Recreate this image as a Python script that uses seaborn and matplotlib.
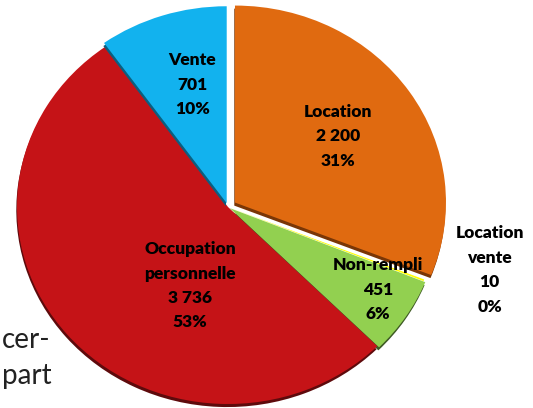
import matplotlib
matplotlib.use("Agg")
import matplotlib.pyplot as plt
import matplotlib.patheffects as pe
import seaborn as sns

categories = ["Location", "Location\nvente", "Non-rempli", "Occupation\npersonnelle", "Vente"]
values = [2200, 10, 451, 3736, 701]
colors = ["#E06A10", "#FFFF00", "#92D050", "#C51317", "#12B2EE"]
shadow_colors = ["#7A3606", "#9A9A00", "#3E5A24", "#5E0A0C", "#0B5F80"]
explode = [0.04, 0.0, 0.01, 0.0, 0.02]
# label anchor in data units (pie radius = 1)
label_xy = [(0.52, 0.36), (1.24, -0.32), (0.71, -0.42), (-0.18, -0.40), (-0.17, 0.62)]

sns.set_style("white")
plt.rcParams["font.family"] = ["Lato", "DejaVu Sans"]

W, H = 533, 408
fig = plt.figure(figsize=(W / 100, H / 100), dpi=100)

# pie centre (px from left, px from bottom) and radii
cx, cy, rx, ry = 228, 201, 211, 197
lim = 1.1
ax = fig.add_axes([(cx - lim * rx) / W, (cy - lim * ry) / H,
                   2 * lim * rx / W, 2 * lim * ry / H])

wedges, _ = ax.pie(values, colors=colors, startangle=90, counterclock=False,
                   explode=explode, wedgeprops=dict(linewidth=0))
for w, sc in zip(wedges, shadow_colors):
    w.set_path_effects([pe.SimplePatchShadow(offset=(-0.5, -2.2), shadow_rgbFace=sc, alpha=1.0),
                        pe.Normal()])

total = sum(values)
for cat, v, (x, y) in zip(categories, values, label_xy):
    txt = f"{cat}\n{v:,}".replace(",", " ") + f"\n{round(100 * v / total)}%"
    ax.text(x, y, txt, ha="center", va="center", fontsize=12.5,
            fontweight="heavy", color="black", linespacing=1.65)

ax.set_aspect("auto")
ax.set_xlim(-lim, lim)
ax.set_ylim(-lim, lim)
ax.axis("off")

fig.text(0.003, 1 - 340 / H, "cer-", fontsize=20, color="#222222", va="center", ha="left", zorder=-1)
fig.text(0.003, 1 - 376 / H, "part", fontsize=20, color="#222222", va="center", ha="left", zorder=-1)

fig.savefig("out.png", dpi=100)
